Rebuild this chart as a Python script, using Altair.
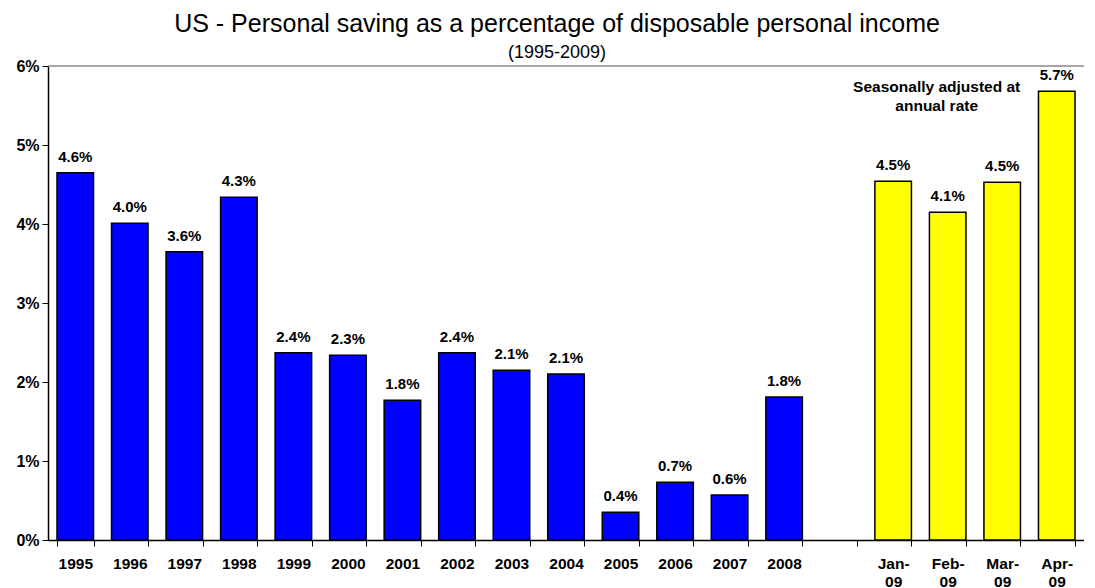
import altair as alt
import pandas as pd

categories = ["1995", "1996", "1997", "1998", "1999", "2000", "2001", "2002", "2003",
              "2004", "2005", "2006", "2007", "2008", " ", "Jan-09", "Feb-09", "Mar-09", "Apr-09"]
values = [4.65, 4.01, 3.65, 4.34, 2.37, 2.34, 1.77, 2.37, 2.15, 2.10, 0.35, 0.73, 0.57, 1.81,
          None, 4.54, 4.15, 4.53, 5.68]
labels = ["4.6%", "4.0%", "3.6%", "4.3%", "2.4%", "2.3%", "1.8%", "2.4%", "2.1%", "2.1%",
          "0.4%", "0.7%", "0.6%", "1.8%", "", "4.5%", "4.1%", "4.5%", "5.7%"]
groups = ["annual"] * 14 + ["none"] + ["monthly"] * 4

df = pd.DataFrame({"cat": categories, "value": values, "label": labels, "group": groups})
bars_df = df[df["group"] != "none"]

FONT = "Liberation Sans"

x = alt.X("cat:N", sort=categories, scale=alt.Scale(domain=categories, paddingInner=0.33, paddingOuter=0.165),
          axis=alt.Axis(title=None, labelAngle=0, labelFontWeight="bold", labelFontSize=15.5,
                        labelFont=FONT, labelColor="black", domainColor="black", domainWidth=1.5,
                        tickColor="black", tickSize=6, tickBand="extent", labelPadding=10,
                        labelExpr="indexof(datum.label, '-') > 0 ? [slice(datum.label, 0, 4), slice(datum.label, 4)] : datum.label",
                        labelLineHeight=18))
y = alt.Y("value:Q", scale=alt.Scale(domain=[0, 6], nice=False),
          axis=alt.Axis(title=None, values=[0, 1, 2, 3, 4, 5, 6], labelExpr="datum.value + '%'",
                        labelFontWeight="bold", labelFontSize=16, labelFont=FONT, labelColor="black",
                        grid=False, domainColor="black", domainWidth=1.5, tickColor="black", tickSize=6,
                        labelPadding=3))

bars = alt.Chart(bars_df).mark_bar(stroke="black", strokeWidth=1.5).encode(
    x=x, y=y,
    color=alt.Color("group:N", scale=alt.Scale(domain=["annual", "monthly"], range=["#0000FF", "#FFFF00"]),
                    legend=None),
)

text = alt.Chart(bars_df).mark_text(dy=-8, baseline="bottom", fontWeight="bold", fontSize=15, font=FONT,
                                    color="black").encode(
    x=alt.X("cat:N", sort=categories), y="value:Q", text="label:N")

top_rule = alt.Chart(pd.DataFrame({"v": [6]})).mark_rule(color="#888888", strokeWidth=1.5).encode(
    y=alt.Y("v:Q"))

note = alt.Chart(pd.DataFrame({"cat": ["Feb-09"], "v": [5.74]})).mark_text(
    fontWeight="bold", fontSize=15.5, font=FONT, color="black", lineHeight=19, baseline="middle",
    text=["Seasonally adjusted at", "annual rate"], dx=-11).encode(
    x=alt.X("cat:N", sort=categories), y="v:Q")

chart = alt.layer(bars, text, top_rule, note).properties(
    width=1036, height=474,
    autosize=alt.AutoSizeParams(type="none"),
    padding={"left": 40, "top": 58, "right": 0, "bottom": 48},
    title=alt.Title("US - Personal saving as a percentage of disposable personal income",
                    subtitle="(1995-2009)", font=FONT, fontSize=25, fontWeight="normal", color="black",
                    subtitleFont=FONT, subtitleFontSize=18, subtitleColor="black", subtitlePadding=7,
                    offset=0, dy=4, anchor="middle", dx=-9),
).configure_view(stroke=None)

chart.save("out.html", embed_options={"renderer": "svg", "actions": False})
